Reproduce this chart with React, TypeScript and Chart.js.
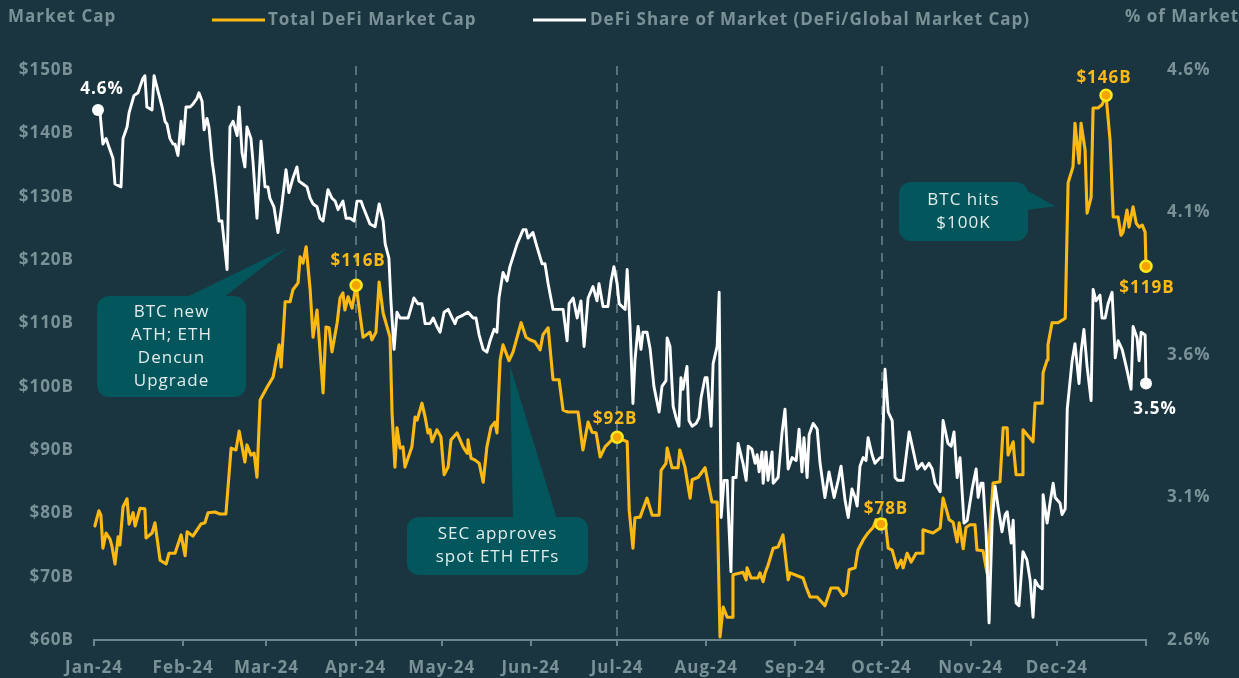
import React, { useEffect, useRef } from 'react';
import { Chart, registerables } from 'chart.js';

Chart.register(...registerables);

// ---------- data ----------
const monthStarts = [0, 31, 60, 91, 121, 152, 182, 213, 244, 274, 305, 335, 366];
const monthLabels = ['Jan-24', 'Feb-24', 'Mar-24', 'Apr-24', 'May-24', 'Jun-24', 'Jul-24', 'Aug-24', 'Sep-24', 'Oct-24', 'Nov-24', 'Dec-24', ''];
const quarterDays = [91, 182, 274];
const shareTicks = [2.6, 3.1, 3.6, 4.1, 4.6];

// Total DeFi Market Cap ($B), x = day of 2024
const capDays = [
  0.3, 1.7, 2.4, 3.1, 4.2, 5.6, 6.3, 7.3, 8.4, 9.0,
  10.1, 11.5, 12.2, 13.6, 14.3, 16.0, 17.7, 18.1, 20.2, 21.2,
  23.0, 25.1, 26.1, 28.2, 30.3, 31.7, 32.4, 34.4, 37.2, 38.6,
  39.7, 42.1, 43.8, 45.9, 47.7, 49.4, 50.5, 52.5, 53.2, 54.6,
  55.7, 56.7, 57.8, 60.2, 62.3, 64.4, 65.1, 66.5, 68.2, 69.2,
  71.0, 71.7, 72.7, 73.8, 75.2, 76.2, 77.6, 79.7, 80.7, 81.8,
  82.8, 84.6, 85.6, 86.6, 87.3, 88.4, 89.8, 91.2, 93.6, 96.0,
  96.7, 98.1, 99.2, 100.6, 103.0, 103.7, 104.7, 105.4, 106.5, 107.5,
  108.2, 110.6, 111.7, 112.4, 114.1, 115.2, 116.2, 116.9, 117.6, 119.3,
  120.7, 121.8, 123.2, 124.2, 126.3, 128.4, 129.8, 130.1, 131.2, 132.6,
  134.0, 135.4, 136.7, 138.1, 139.5, 140.2, 141.3, 142.3, 144.4, 145.8,
  147.2, 148.6, 150.3, 151.7, 153.4, 155.2, 156.2, 158.0, 159.7, 161.8,
  163.2, 164.9, 168.4, 170.1, 171.9, 173.3, 174.7, 176.1, 177.8, 180.2,
  182.0, 185.5, 186.2, 187.5, 188.2, 190.0, 192.4, 194.2, 196.6, 197.3,
  199.0, 199.4, 201.1, 203.2, 203.8, 205.6, 207.4, 208.1, 210.2, 212.6,
  215.0, 216.8, 217.8, 218.9, 220.3, 222.0, 222.3, 225.8, 226.9, 227.2,
  228.6, 231.0, 231.7, 232.8, 233.5, 234.5, 236.3, 238.0, 239.7, 241.5,
  242.2, 244.9, 246.7, 247.7, 249.1, 251.6, 254.3, 256.4, 258.9, 260.6,
  261.7, 262.7, 264.8, 265.8, 267.6, 269.3, 271.1, 272.1, 273.8, 275.2,
  276.3, 277.7, 279.4, 280.8, 281.5, 282.9, 284.3, 286.0, 288.1, 288.4,
  290.5, 291.9, 294.4, 295.4, 296.8, 297.5, 298.9, 300.3, 301.0, 302.4,
  303.4, 304.8, 306.5, 307.2, 309.3, 310.7, 312.8, 315.2, 316.3, 317.7,
  318.0, 319.8, 320.1, 320.8, 322.9, 323.2, 326.7, 327.4, 329.9, 330.2,
  331.6, 331.9, 333.3, 335.4, 337.9, 338.9, 340.6, 341.3, 342.7, 343.4,
  344.8, 345.5, 346.9, 347.6, 349.3, 350.7, 352.1, 353.5, 354.6, 356.3,
  357.3, 358.0, 359.4, 360.1, 361.5, 362.6, 363.6, 364.7, 365.7, 366.0,
];
const capValues = [
  78.0, 80.4, 79.7, 74.5, 76.9, 75.9, 74.7, 72.0, 76.3, 75.0,
  81.0, 82.3, 78.3, 80.1, 78.0, 80.8, 80.7, 76.1, 76.9, 78.5,
  72.6, 72.0, 73.7, 73.7, 76.6, 73.3, 77.1, 76.4, 78.3, 78.5,
  80.1, 80.2, 79.9, 79.9, 90.3, 90.0, 93.0, 88.1, 90.8, 89.2,
  89.5, 85.7, 97.9, 99.9, 101.5, 106.6, 103.1, 113.4, 113.4, 115.3,
  116.4, 120.5, 119.5, 122.1, 115.3, 107.8, 112.1, 99.0, 109.4, 109.3,
  105.5, 110.1, 114.0, 114.8, 112.1, 114.2, 112.4, 116.0, 107.8, 108.6,
  107.4, 108.6, 116.5, 111.6, 107.8, 95.8, 87.3, 93.5, 90.3, 90.5,
  87.3, 90.5, 95.2, 94.7, 97.4, 95.2, 92.7, 93.2, 91.3, 93.2,
  92.1, 86.1, 87.3, 91.6, 92.7, 90.5, 89.5, 91.6, 88.7, 88.4,
  87.9, 84.9, 90.5, 93.6, 94.4, 92.7, 104.2, 106.6, 104.1, 105.5,
  107.8, 110.1, 107.8, 107.4, 107.1, 105.8, 108.2, 109.3, 101.1, 101.1,
  96.3, 96.0, 96.0, 90.0, 94.4, 92.8, 92.7, 88.9, 90.5, 91.6,
  92.0, 91.3, 80.5, 74.5, 79.3, 79.4, 82.4, 79.7, 79.7, 86.8,
  87.9, 90.3, 87.2, 87.2, 90.0, 87.3, 82.4, 85.3, 85.7, 87.2,
  81.8, 81.8, 60.5, 65.2, 63.6, 63.6, 70.3, 70.7, 69.5, 71.4,
  69.8, 69.8, 70.6, 69.2, 70.6, 71.8, 74.5, 74.7, 76.6, 69.5,
  70.6, 70.1, 69.8, 68.4, 66.8, 66.8, 65.4, 68.2, 68.2, 67.0,
  67.4, 71.1, 71.4, 74.2, 75.8, 76.9, 77.8, 79.0, 78.3, 79.0,
  74.5, 74.2, 71.4, 72.6, 71.4, 73.7, 72.3, 73.7, 73.7, 77.4,
  77.1, 76.9, 77.7, 82.4, 80.2, 79.0, 78.6, 75.5, 78.5, 74.4,
  77.8, 78.2, 78.2, 74.2, 74.1, 70.6, 84.8, 85.0, 93.5, 93.5,
  89.2, 91.3, 89.5, 86.1, 86.1, 93.2, 91.3, 97.4, 97.4, 102.2,
  104.2, 106.6, 110.1, 110.1, 110.8, 132.2, 134.7, 141.6, 135.3, 141.6,
  137.4, 127.4, 129.9, 144.0, 144.0, 144.5, 146.0, 138.9, 126.8, 126.8,
  123.9, 124.4, 127.9, 125.2, 128.4, 125.8, 125.2, 125.5, 124.4, 119.0,
];

// DeFi share of global market cap (%), x = day of 2024
const shareDays = [
  1.4, 2.1, 3.1, 4.2, 5.2, 6.6, 7.3, 9.4, 10.1, 11.5,
  12.2, 13.9, 15.3, 17.0, 17.7, 18.4, 20.2, 20.9, 21.9, 23.7,
  24.7, 25.4, 26.4, 27.5, 28.2, 29.2, 30.3, 31.0, 32.0, 33.4,
  34.4, 35.8, 36.5, 37.6, 38.3, 39.3, 40.0, 41.1, 41.8, 42.8,
  43.5, 44.5, 46.3, 47.3, 48.4, 49.8, 50.5, 51.5, 52.5, 53.2,
  54.6, 55.3, 56.7, 58.1, 58.8, 59.5, 60.5, 61.2, 62.6, 64.0,
  65.4, 66.8, 67.8, 69.2, 70.6, 71.3, 72.7, 74.1, 75.2, 76.2,
  77.6, 78.6, 79.7, 81.4, 82.8, 83.9, 84.9, 86.6, 87.7, 89.1,
  90.5, 91.5, 92.9, 93.6, 96.0, 97.8, 99.2, 100.6, 101.3, 102.6,
  103.3, 104.4, 105.4, 106.5, 107.5, 109.3, 111.3, 112.7, 114.1, 115.2,
  116.9, 118.0, 119.3, 120.4, 121.8, 123.2, 124.6, 125.6, 126.3, 128.4,
  130.1, 131.9, 132.9, 134.0, 135.4, 136.7, 137.8, 139.2, 140.2, 140.9,
  142.3, 143.7, 144.7, 147.2, 149.3, 150.3, 151.0, 152.7, 154.1, 155.9,
  156.9, 158.0, 159.7, 162.1, 163.2, 164.6, 165.3, 166.7, 168.1, 169.4,
  170.5, 171.9, 173.6, 175.0, 175.7, 177.1, 178.8, 179.9, 180.9, 182.0,
  182.7, 184.8, 185.5, 186.5, 187.5, 188.2, 189.3, 190.3, 191.0, 192.4,
  193.5, 194.8, 196.6, 197.6, 199.0, 199.4, 200.4, 201.5, 202.5, 203.5,
  204.2, 204.9, 206.3, 207.0, 208.1, 209.5, 210.5, 211.2, 212.6, 213.3,
  214.7, 215.4, 216.8, 217.5, 218.2, 219.2, 220.3, 220.6, 221.6, 222.3,
  223.4, 224.1, 225.8, 226.9, 227.6, 228.9, 230.0, 230.7, 231.4, 232.4,
  232.8, 233.8, 234.5, 235.9, 236.3, 238.0, 239.4, 240.4, 241.5, 242.9,
  244.3, 245.3, 246.3, 247.0, 248.1, 248.8, 250.2, 251.6, 252.6, 254.3,
  255.7, 257.5, 258.9, 259.9, 261.3, 262.4, 263.7, 264.8, 265.5, 266.5,
  267.6, 268.6, 269.3, 270.7, 271.7, 273.5, 274.2, 275.2, 276.3, 277.7,
  278.7, 279.7, 281.5, 283.6, 286.4, 288.1, 289.1, 290.5, 291.6, 292.6,
  294.4, 295.4, 297.1, 298.2, 299.2, 300.3, 301.3, 302.7, 303.8, 305.5,
  306.9, 307.6, 308.6, 309.3, 310.4, 311.4, 312.5, 313.5, 314.5, 315.9,
  317.0, 317.7, 319.1, 319.8, 320.8, 321.8, 323.2, 324.6, 325.7, 326.7,
  327.4, 328.5, 329.9, 330.2, 331.6, 332.6, 333.7, 334.4, 336.1, 336.8,
  337.9, 338.6, 340.3, 341.3, 342.7, 343.4, 344.4, 345.5, 346.9, 347.6,
  348.6, 349.3, 350.0, 350.7, 351.8, 352.8, 354.2, 355.3, 356.3, 357.7,
  359.1, 360.8, 361.5, 362.9, 363.6, 364.3, 365.7, 366.0,
];
const shareValues = [
  4.46, 4.45, 4.34, 4.36, 4.33, 4.29, 4.20, 4.19, 4.36, 4.40,
  4.45, 4.51, 4.52, 4.57, 4.58, 4.47, 4.46, 4.58, 4.54, 4.47,
  4.42, 4.41, 4.36, 4.34, 4.34, 4.30, 4.42, 4.34, 4.47, 4.47,
  4.48, 4.50, 4.52, 4.49, 4.39, 4.43, 4.40, 4.28, 4.23, 4.14,
  4.07, 4.07, 3.90, 4.40, 4.42, 4.37, 4.47, 4.31, 4.26, 4.40,
  4.36, 4.28, 4.08, 4.35, 4.27, 4.19, 4.19, 4.15, 4.12, 4.03,
  4.13, 4.25, 4.17, 4.22, 4.26, 4.21, 4.20, 4.19, 4.15, 4.13,
  4.12, 4.08, 4.07, 4.18, 4.15, 4.14, 4.11, 4.14, 4.08, 4.08,
  4.07, 4.14, 4.14, 4.12, 4.06, 4.05, 4.13, 4.07, 3.99, 3.94,
  3.79, 3.62, 3.75, 3.73, 3.73, 3.73, 3.80, 3.78, 3.78, 3.71,
  3.71, 3.73, 3.70, 3.68, 3.75, 3.76, 3.73, 3.71, 3.73, 3.74,
  3.75, 3.73, 3.73, 3.67, 3.62, 3.61, 3.65, 3.69, 3.68, 3.80,
  3.89, 3.86, 3.91, 3.99, 4.04, 4.04, 4.01, 4.03, 3.98, 3.92,
  3.92, 3.85, 3.76, 3.76, 3.76, 3.65, 3.78, 3.80, 3.73, 3.79,
  3.63, 3.80, 3.84, 3.79, 3.85, 3.77, 3.77, 3.86, 3.91, 3.85,
  3.78, 3.76, 3.90, 3.70, 3.43, 3.58, 3.70, 3.62, 3.68, 3.68,
  3.62, 3.49, 3.40, 3.49, 3.51, 3.66, 3.63, 3.42, 3.38, 3.35,
  3.52, 3.48, 3.56, 3.37, 3.35, 3.36, 3.38, 3.45, 3.52, 3.52,
  3.35, 3.57, 3.63, 3.82, 3.03, 3.16, 3.16, 3.07, 2.84, 3.17,
  3.17, 3.29, 3.22, 3.16, 3.28, 3.27, 3.22, 3.25, 3.19, 3.26,
  3.15, 3.26, 3.16, 3.26, 3.15, 3.17, 3.33, 3.41, 3.20, 3.24,
  3.23, 3.34, 3.19, 3.31, 3.17, 3.32, 3.36, 3.34, 3.22, 3.10,
  3.19, 3.10, 3.16, 3.21, 3.09, 3.03, 3.13, 3.10, 3.07, 3.21,
  3.24, 3.23, 3.31, 3.25, 3.22, 3.24, 3.24, 3.55, 3.40, 3.37,
  3.17, 3.16, 3.16, 3.33, 3.20, 3.22, 3.20, 3.22, 3.20, 3.15,
  3.12, 3.37, 3.29, 3.28, 3.33, 3.17, 3.24, 3.01, 3.02, 3.13,
  3.20, 3.10, 3.15, 3.15, 2.97, 2.66, 3.02, 3.14, 3.07, 2.98,
  3.04, 3.05, 2.94, 3.02, 2.73, 2.72, 2.91, 2.88, 2.81, 2.68,
  2.81, 2.79, 2.78, 3.11, 3.01, 3.08, 3.15, 3.10, 3.08, 3.04,
  3.06, 3.41, 3.58, 3.64, 3.50, 3.61, 3.69, 3.56, 3.44, 3.83,
  3.79, 3.80, 3.81, 3.73, 3.73, 3.78, 3.82, 3.59, 3.65, 3.62,
  3.56, 3.48, 3.70, 3.66, 3.58, 3.68, 3.67, 3.50,
];

// highlighted points (data-linked labels)
const capMarkerDays = [91.2, 182.0, 273.8, 352.1, 366.0];
const capMarkerLabels = ['$116B', '$92B', '$78B', '$146B', '$119B'];
const shareMarkerDays = [1.4, 366.0];
const shareMarkerLabels = ['4.6%', '3.5%'];

// ---------- styling ----------
const FONT = '"Open Sans", "Noto Sans", "DejaVu Sans", sans-serif';
const BG = '#1b3540';
const GREY = '#7a9297';
const AXIS = '#6a868c';
const DASH = '#567379';
const YELLOW = '#fdb913';
const BOX = '#03575c';
const BOX_TEXT = '#e2eced';

const capLabelOffsets = [[2, -24], [-2, -18], [5, -15], [-2, -17], [1, 22]];
const shareLabelOffsets = [[4, -21], [9, 26]];

const callouts = [
  { lines: ['BTC new', 'ATH; ETH', 'Dencun', 'Upgrade'], tipDay: 67.2, tipValue: 121.9,
    rect: [97, 296, 149, 101], side: 'top', base: [185, 223] },
  { lines: ['SEC approves', 'spot ETH ETFs'], tipDay: 144.7, tipValue: 103.4,
    rect: [407, 517, 181, 58], side: 'top', base: [513, 557] },
  { lines: ['BTC hits', '$100K'], tipDay: 334.4, tipValue: 128.5,
    rect: [899, 182, 129, 59], side: 'right', base: [190, 210] },
];

const overlayPlugin = {
  id: 'overlay',
  beforeUpdate(chart: any) {
    chart.ctx.letterSpacing = '1px';
  },
  beforeDraw(chart: any) {
    const ctx = chart.ctx;
    ctx.save();
    ctx.fillStyle = BG;
    ctx.fillRect(0, 0, chart.width, chart.height);
    ctx.restore();
    ctx.letterSpacing = '1px';
  },
  beforeDatasetsDraw(chart: any) {
    const ctx = chart.ctx;
    const xs = chart.scales.x;
    const ys = chart.scales.y;
    const { top, bottom } = chart.chartArea;
    ctx.save();
    ctx.setLineDash([9, 8]);
    ctx.strokeStyle = DASH;
    ctx.lineWidth = 2;
    quarterDays.forEach((d) => {
      const px = Math.round(xs.getPixelForValue(d));
      ctx.beginPath();
      ctx.moveTo(px, top - 4);
      ctx.lineTo(px, bottom);
      ctx.stroke();
    });
    ctx.restore();

    ctx.save();
    callouts.forEach((c) => {
      const [rx, ry, rw, rh] = c.rect;
      const tx = xs.getPixelForValue(c.tipDay);
      const ty = ys.getPixelForValue(c.tipValue);
      ctx.fillStyle = BOX;
      ctx.beginPath();
      ctx.roundRect(rx, ry, rw, rh, 12);
      ctx.fill();
      ctx.beginPath();
      if (c.side === 'top') {
        ctx.moveTo(c.base[0], ry + 2);
        ctx.lineTo(tx, ty);
        ctx.lineTo(c.base[1], ry + 2);
      } else {
        ctx.moveTo(rx + rw - 2, c.base[0]);
        ctx.lineTo(tx, ty);
        ctx.lineTo(rx + rw - 2, c.base[1]);
      }
      ctx.closePath();
      ctx.fill();
      ctx.fillStyle = BOX_TEXT;
      ctx.font = `17px ${FONT}`;
      ctx.textAlign = 'center';
      ctx.textBaseline = 'middle';
      const lh = 23;
      const cy = ry + rh / 2 - ((c.lines.length - 1) * lh) / 2;
      c.lines.forEach((t, i) => ctx.fillText(t, rx + rw / 2, cy + i * lh));
    });
    ctx.restore();
  },
  afterDatasetsDraw(chart: any) {
    const ctx = chart.ctx;
    ctx.save();
    ctx.font = `bold 17px ${FONT}`;
    ctx.textAlign = 'center';
    ctx.textBaseline = 'middle';
    const capMeta = chart.getDatasetMeta(0);
    ctx.fillStyle = YELLOW;
    capMarkerDays.forEach((d, i) => {
      const idx = capDays.indexOf(d);
      const el = capMeta.data[idx];
      if (!el) return;
      ctx.fillText(capMarkerLabels[i], el.x + capLabelOffsets[i][0], el.y + capLabelOffsets[i][1]);
    });
    const shareMeta = chart.getDatasetMeta(1);
    ctx.fillStyle = '#ffffff';
    shareMarkerDays.forEach((d, i) => {
      const idx = shareDays.indexOf(d);
      const el = shareMeta.data[idx];
      if (!el) return;
      ctx.fillText(shareMarkerLabels[i], el.x + shareLabelOffsets[i][0], el.y + shareLabelOffsets[i][1]);
    });
    ctx.restore();
  },
  afterDraw(chart: any) {
    const ctx = chart.ctx;
    ctx.save();
    ctx.font = `bold 17px ${FONT}`;
    ctx.textBaseline = 'middle';
    ctx.textAlign = 'left';
    ctx.fillStyle = GREY;
    ctx.fillText('Market Cap', 8, 17);
    ctx.fillText('% of Market', 1125, 17);
    // legend
    ctx.lineWidth = 3;
    ctx.strokeStyle = YELLOW;
    ctx.beginPath();
    ctx.moveTo(212, 20);
    ctx.lineTo(265, 20);
    ctx.stroke();
    ctx.fillText('Total DeFi Market Cap', 268, 20);
    ctx.strokeStyle = '#ffffff';
    ctx.beginPath();
    ctx.moveTo(533, 20);
    ctx.lineTo(586, 20);
    ctx.stroke();
    ctx.fillText('DeFi Share of Market (DeFi/Global Market Cap)', 590, 20);
    ctx.restore();
  },
};

export default function App() {
  const canvasRef = useRef<HTMLCanvasElement | null>(null);

  useEffect(() => {
    if (!canvasRef.current) return;
    const capIdx = new Set(capMarkerDays.map((d) => capDays.indexOf(d)));
    const shareIdx = new Set(shareMarkerDays.map((d) => shareDays.indexOf(d)));
    const tickFont = { family: FONT, size: 17, weight: 'bold' as const };

    const chart = new Chart(canvasRef.current, {
      type: 'line',
      data: {
        datasets: [
          {
            label: 'Total DeFi Market Cap',
            data: capDays.map((d, i) => ({ x: d, y: capValues[i] })),
            yAxisID: 'y',
            borderColor: YELLOW,
            borderWidth: 3.1,
            borderJoinStyle: 'round',
            borderCapStyle: 'round',
            tension: 0,
            clip: false as any,
            order: 2,
            pointRadius: (c: any) => (capIdx.has(c.dataIndex) ? 5.5 : 0),
            pointHoverRadius: (c: any) => (capIdx.has(c.dataIndex) ? 5.5 : 0),
            pointBackgroundColor: '#f5a300',
            pointBorderColor: '#ffe81a',
            pointBorderWidth: 2.5,
          },
          {
            label: 'DeFi Share of Market (DeFi/Global Market Cap)',
            data: shareDays.map((d, i) => ({ x: d, y: shareValues[i] })),
            yAxisID: 'y1',
            borderColor: '#ffffff',
            borderWidth: 2.9,
            borderJoinStyle: 'round',
            borderCapStyle: 'round',
            tension: 0,
            clip: false as any,
            order: 1,
            pointRadius: (c: any) => (shareIdx.has(c.dataIndex) ? 6 : 0),
            pointHoverRadius: (c: any) => (shareIdx.has(c.dataIndex) ? 6 : 0),
            pointBackgroundColor: '#ffffff',
            pointBorderColor: '#ffffff',
            pointBorderWidth: 0,
          },
        ],
      },
      options: {
        responsive: false,
        animation: false,
        events: [],
        layout: { padding: { top: 70, left: 0, right: 0, bottom: 0 } },
        plugins: { legend: { display: false }, tooltip: { enabled: false } },
        scales: {
          x: {
            type: 'linear',
            min: 0,
            max: 366,
            afterBuildTicks: (s: any) => {
              s.ticks = monthStarts.map((v) => ({ value: v }));
            },
            afterFit: (s: any) => {
              s.height = 38;
            },
            ticks: {
              autoSkip: false,
              maxRotation: 0,
              padding: 12,
              color: GREY,
              font: tickFont,
              callback: (v: any) => {
                const i = monthStarts.indexOf(Number(v));
                return i >= 0 ? monthLabels[i] : '';
              },
            },
            grid: {
              display: true,
              drawOnChartArea: false,
              drawTicks: true,
              tickLength: 6,
              color: AXIS,
              lineWidth: 2,
            },
            border: { display: true, color: AXIS, width: 2 },
          },
          y: {
            type: 'linear',
            position: 'left',
            min: 60,
            max: 150,
            ticks: {
              stepSize: 10,
              padding: 20,
              color: GREY,
              font: tickFont,
              callback: (v: any) => `$${v}B`,
            },
            afterFit: (s: any) => {
              s.width = 94;
            },
            grid: { display: false, drawTicks: false },
            border: { display: false },
          },
          y1: {
            type: 'linear',
            position: 'right',
            min: 2.6,
            max: 4.6,
            afterBuildTicks: (s: any) => {
              s.ticks = shareTicks.map((v) => ({ value: v }));
            },
            ticks: {
              padding: 21,
              color: GREY,
              font: tickFont,
              callback: (v: any) => `${Number(v).toFixed(1)}%`,
            },
            afterFit: (s: any) => {
              s.width = 93;
            },
            grid: { display: false, drawTicks: false },
            border: { display: false },
          },
        },
      } as any,
      plugins: [overlayPlugin],
    });
    return () => chart.destroy();
  }, []);

  return (
    <div style={{ position: 'fixed', left: 0, top: 0, width: 1239, height: 678, background: BG }}>
      <canvas ref={canvasRef} width={1239} height={678} style={{ display: 'block', width: 1239, height: 678 }} />
    </div>
  );
}
